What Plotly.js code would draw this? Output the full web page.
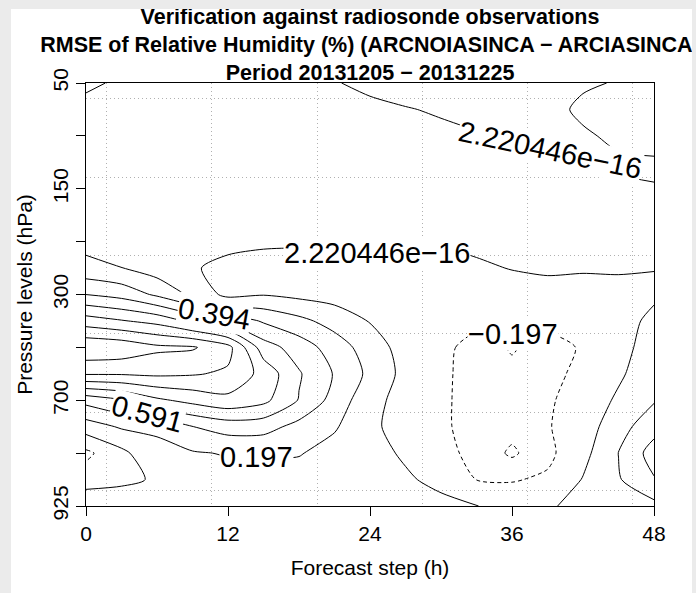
<!DOCTYPE html>
<html><head><meta charset="utf-8">
<script src="https://cdn.plot.ly/plotly-3.0.1.min.js"></script>
<style>
html,body{margin:0;padding:0;background:#ebebeb;width:696px;height:593px;overflow:hidden}
#chart{position:absolute;left:11px;top:9px;width:681px;height:584px;background:#fff}
</style></head><body><div id="chart"></div>
<script>
// Forecast steps (h) = columns of the field
const forecastSteps = [0,3,6,9,12,15,18,21,24,27,30,33,36,39,42,45,48];
// Vertical positions (pressure-level index, 0 = 50 hPa at top, 8 = 925 hPa at bottom), half-level resolution
const levelRows = [0,0.5,1,1.5,2,2.5,3,3.5,4,4.5,5,5.5,6,6.5,7,7.5,8];
// Axis tick positions and labels
const pressureTicks = [0,1,2,3,4,5,6,7,8];
const pressureLabels = ['50','','150','','300','','700','','925'];
const stepTicks = [0,12,24,36,48];

// RMSE difference (%) for each forecast step, listed top (50 hPa) to bottom (925 hPa)
const diff00 = [-0.03,0.05,0.08,0.09,0.10,0.11,0.13,0.26,0.59,1.08,1.55,1.20,0.46,0.10,-0.24,-0.10,0.17];
const diff03 = [0.025,0.06,0.08,0.09,0.10,0.11,0.12,0.20,0.52,1.00,1.52,1.20,0.57,0.22,-0.05,-0.06,0.18];
const diff06 = [0.04,0.06,0.08,0.09,0.10,0.10,0.10,0.10,0.36,0.92,1.42,1.22,0.75,0.22,0.16,0.03,0.12];
const diff09 = [0.05,0.07,0.08,0.09,0.09,0.08,0.06,0.01,0.16,0.74,1.40,1.20,0.85,0.39,0.18,0.10,0.10];
const diff12 = [0.06,0.08,0.09,0.09,0.08,0.06,0.03,-0.03,-0.06,0.54,1.25,1.15,0.93,0.48,0.21,0.12,0.09];
const diff15 = [0.06,0.08,0.08,0.08,0.07,0.05,0.02,-0.05,-0.01,0.37,0.68,0.92,0.84,0.47,0.22,0.12,0.08];
const diff18 = [0.05,0.07,0.07,0.07,0.06,0.04,0.02,-0.06,-0.05,0.25,0.50,0.61,0.58,0.33,0.21,0.11,0.07];
const diff21 = [0.005,0.05,0.06,0.06,0.05,0.04,0.03,-0.04,-0.08,0.12,0.30,0.38,0.32,0.22,0.12,0.08,0.05];
const diff24 = [-0.02,0.02,0.04,0.04,0.04,0.03,0.02,-0.04,-0.09,-0.01,0.10,0.15,0.06,0.03,0.05,0.06,0.05];
const diff27 = [-0.04,0.005,0.03,0.03,0.03,0.02,0.01,-0.04,-0.08,-0.09,-0.08,-0.06,-0.07,-0.06,-0.02,0.02,0.04];
const diff30 = [-0.06,-0.01,0.02,0.025,0.025,0.02,0.01,-0.04,-0.08,-0.12,-0.16,-0.16,-0.16,-0.16,-0.14,-0.04,0.04];
const diff33 = [-0.08,-0.04,0.01,0.02,0.02,0.015,0.03,-0.02,-0.08,-0.16,-0.25,-0.27,-0.28,-0.28,-0.25,-0.20,0.005];
const diff36 = [-0.10,-0.06,-0.01,0.015,0.02,0.015,0.01,0.005,-0.06,-0.12,-0.42,-0.33,-0.30,-0.32,-0.43,-0.21,-0.08];
const diff39 = [-0.08,-0.05,-0.02,0.01,0.02,0.02,0.01,0.02,-0.05,-0.15,-0.26,-0.25,-0.22,-0.21,-0.24,-0.17,-0.02];
const diff42 = [-0.02,0.03,-0.02,-0.005,0.02,0.03,0.025,0.01,-0.04,-0.10,-0.18,-0.15,-0.12,-0.10,-0.06,0.01,0.05];
const diff45 = [0.01,0.04,0.03,-0.02,0.02,0.04,0.04,0.01,-0.03,-0.05,-0.06,-0.03,0.03,0.12,0.20,0.18,0.10];
const diff48 = [0.08,0.07,0.05,-0.015,0.005,0.03,0.04,0.003,-0.02,0.03,0.08,0.12,0.18,0.32,0.48,0.38,0.14];

// Contour levels
const levelStep = 0.197;
const zeroLevel = 2.220446e-16;
const negLevels = {start: -0.394, end: -0.197};
const posLevels = {start: zeroLevel, end: 1.5};

// Contour labels: text, forecast step, level index, angle
const labelTexts = ['2.220446e\u221216','2.220446e\u221216','0.394','0.591','0.197','\u22120.197'];
const labelSteps = [39.2, 24.6, 10.9, 5.2, 14.4, 36.1];
const labelRows  = [1.27, 3.21, 4.37, 6.26, 7.07, 4.74];
const labelAngles = [12, 0, 10, 15, 0, 0];

const columns = [diff00,diff03,diff06,diff09,diff12,diff15,diff18,diff21,diff24,diff27,diff30,diff33,diff36,diff39,diff42,diff45,diff48];
const z = levelRows.map((_, r) => columns.map(col => col[r]));

const FONT = 'Liberation Sans, Arial, Helvetica, sans-serif';

const common = {
  type: 'contour', x: forecastSteps, y: levelRows, z: z,
  autocontour: false, showscale: false, hoverinfo: 'skip'
};
const traces = [
  Object.assign({}, common, {
    contours: {start: posLevels.start, end: posLevels.end, size: levelStep, coloring: 'none', showlabels: false},
    line: {color: '#000', width: 1, smoothing: 0.7}
  }),
  Object.assign({}, common, {
    contours: {start: negLevels.start, end: negLevels.end, size: levelStep, coloring: 'none', showlabels: false},
    line: {color: '#000', width: 1, dash: '4px,3px', smoothing: 0.7}
  })
];

const annotations = labelTexts.map((t, k) => ({
  text: t, x: labelSteps[k], y: labelRows[k], xref: 'x', yref: 'y',
  textangle: labelAngles[k], showarrow: false, bgcolor: '#fff', borderpad: 0,
  font: {family: FONT, size: 29, color: '#000'}
}));

const gridStyle = {showgrid: true, gridcolor: '#b0b0b0', griddash: '1px,3px', gridwidth: 1, ticks: ''};

const layout = {
  width: 681, height: 584,
  margin: {l: 75, r: 38, t: 74, b: 87},
  paper_bgcolor: '#fff', plot_bgcolor: '#fff',
  font: {family: FONT, size: 21, color: '#000'},
  showlegend: false,
  title: {
    text: '<b>Verification against radiosonde observations</b><br><b>RMSE of Relative Humidity (%) (ARCNOIASINCA \u2212 ARCIASINCA)</b><br><b>Period 20131205 \u2212 20131225</b>',
    font: {family: FONT, size: 21.5, color: '#000'},
    x: 0.5, xref: 'paper', xanchor: 'center',
    y: 1 - 15/584, yref: 'container', yanchor: 'top'
  },
  xaxis: {
    range: [0, 48], tickmode: 'array', tickvals: stepTicks, ticks: 'outside', ticklen: 9,
    tickcolor: '#000', showline: true, mirror: true, linecolor: '#000', linewidth: 1,
    showgrid: false, zeroline: false, tickfont: {family: FONT, size: 21, color: '#000'},
    title: {text: 'Forecast step (h)', font: {family: FONT, size: 21, color: '#000'}, standoff: 16},
    minor: Object.assign({tickmode: 'linear', tick0: 1.76, dtick: 8.885}, gridStyle)
  },
  yaxis: {
    range: [8, 0], tickmode: 'array', tickvals: pressureTicks, ticktext: pressureLabels,
    tickangle: -90, ticks: 'outside', ticklen: 9, tickcolor: '#000',
    showline: true, mirror: true, linecolor: '#000', linewidth: 1,
    showgrid: false, zeroline: false, tickfont: {family: FONT, size: 21, color: '#000'},
    title: {text: 'Pressure levels (hPa)', font: {family: FONT, size: 21, color: '#000'}, standoff: 10},
    minor: Object.assign({tickmode: 'linear', tick0: 0.30, dtick: 1.482}, gridStyle)
  },
  annotations: annotations
};

Plotly.newPlot('chart', traces, layout, {displayModeBar: false, staticPlot: true});
</script></body></html>
